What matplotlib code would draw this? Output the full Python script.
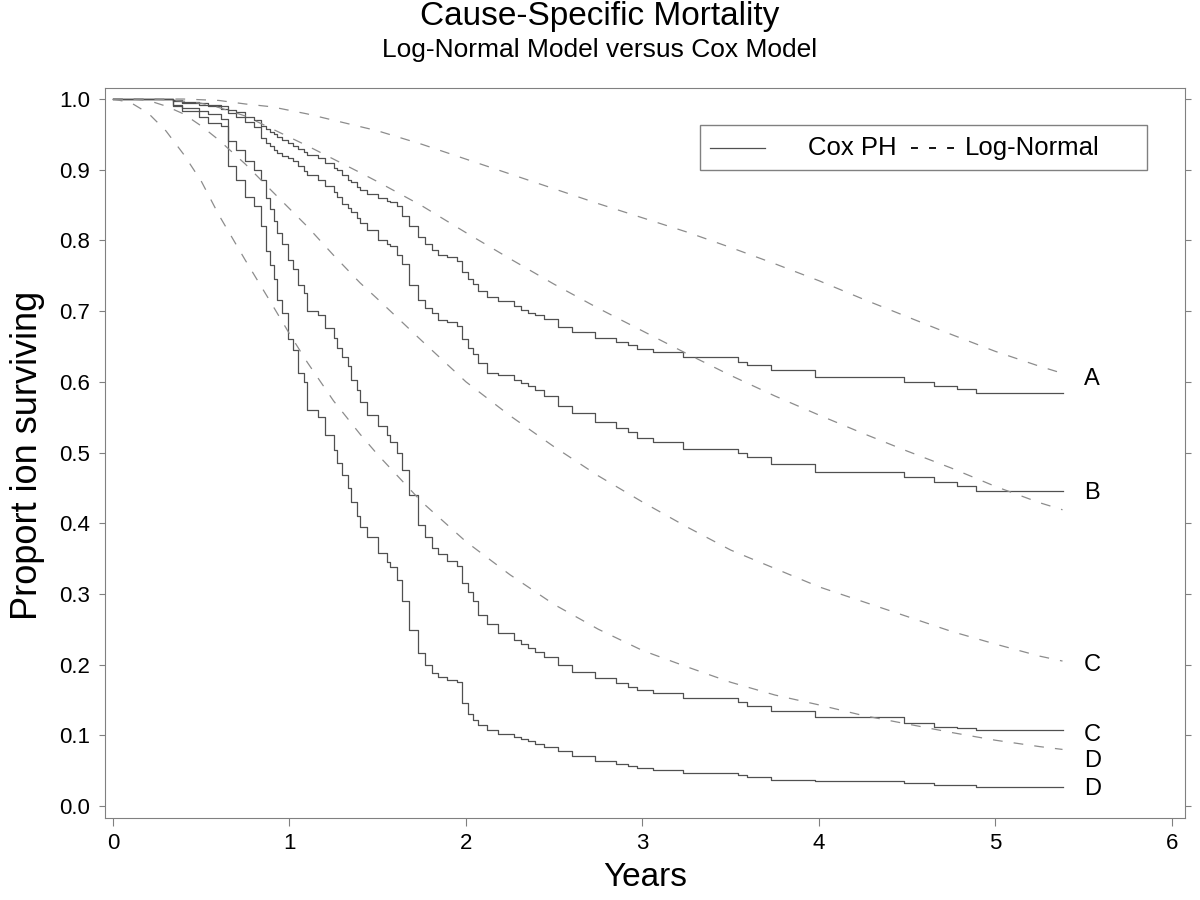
import matplotlib.pyplot as plt
from matplotlib.patches import Rectangle

# Cox PH step curves (all four groups share the same event times, years)
cox_t = [0, 0.34, 0.39, 0.49, 0.54, 0.61, 0.65, 0.70, 0.75, 0.80,
         0.84, 0.87, 0.89, 0.91, 0.93, 0.96, 0.99, 1.02, 1.05, 1.08,
         1.10, 1.16, 1.20, 1.25, 1.27, 1.30, 1.33, 1.35, 1.38, 1.40,
         1.44, 1.50, 1.55, 1.57, 1.61, 1.64, 1.68, 1.73, 1.77, 1.81,
         1.84, 1.89, 1.95, 1.98, 2.01, 2.04, 2.07, 2.12, 2.18, 2.27,
         2.31, 2.35, 2.39, 2.44, 2.52, 2.60, 2.73, 2.85, 2.92, 2.97,
         3.06, 3.23, 3.54, 3.59, 3.73, 3.98, 4.48, 4.65, 4.78, 4.89,
         5.38]
cox_a = [1.0, .998, .996, .994, .992, .99, .985, .981, .975, .970,
         .962, .957, .953, .950, .946, .942, .938, .934, .930, .925,
         .921, .916, .910, .903, .899, .893, .886, .882, .876, .871,
         .866, .860, .856, .854, .848, .835, .820, .805, .795, .786,
         .779, .776, .771, .756, .745, .738, .728, .720, .715, .707,
         .702, .697, .694, .689, .678, .671, .662, .657, .652, .647,
         .642, .635, .628, .624, .617, .607, .600, .594, .590, .584,
         .584]
cox_b = [1.0, .997, .995, .992, .990, .986, .980, .975, .968, .960,
         .945, .938, .934, .928, .924, .920, .917, .912, .905, .898,
         .893, .885, .877, .868, .862, .852, .846, .840, .832, .825,
         .815, .800, .795, .792, .779, .766, .737, .716, .705, .698,
         .688, .685, .679, .660, .648, .640, .626, .613, .609, .602,
         .598, .594, .588, .580, .566, .556, .543, .535, .529, .521,
         .515, .505, .499, .494, .484, .472, .465, .458, .453, .446,
         .446]
cox_c = [1.0, .992, .988, .983, .979, .972, .940, .928, .912, .900,
         .885, .860, .845, .828, .810, .795, .772, .760, .737, .726,
         .700, .694, .676, .662, .648, .635, .622, .603, .588, .572,
         .553, .537, .525, .515, .500, .475, .440, .398, .380, .365,
         .356, .346, .340, .315, .303, .290, .270, .257, .245, .235,
         .229, .224, .218, .211, .200, .190, .181, .174, .169, .164,
         .160, .153, .147, .141, .134, .126, .118, .112, .110, .107,
         .107]
cox_d = [1.0, .990, .983, .975, .966, .962, .905, .885, .862, .848,
         .820, .785, .765, .745, .716, .697, .660, .645, .612, .600,
         .560, .550, .525, .504, .485, .468, .450, .430, .410, .395,
         .380, .358, .345, .338, .320, .290, .249, .216, .200, .188,
         .182, .178, .176, .146, .130, .122, .114, .107, .102, .098,
         .095, .092, .088, .084, .078, .070, .064, .060, .057, .054,
         .051, .047, .044, .041, .037, .035, .032, .030, .029, .027,
         .027]

# Log-normal model curves
ln_t = [0, 0.1, 0.2, 0.3, 0.4, 0.5, 0.6, 0.75, 0.9, 1.0, 1.1, 1.25, 1.4,
        1.5, 1.75, 2.0, 2.25, 2.5, 2.75, 3.0, 3.25, 3.5, 3.75, 4.0, 4.25,
        4.5, 4.75, 5.0, 5.25, 5.38]
ln_a = [1.0, 1.0, 1.0, 1.0, 1.0, .999, .998, .993, .989, .984, .979, .970,
        .961, .955, .936, .915, .894, .873, .852, .832, .812, .790, .767,
        .743, .717, .692, .667, .643, .622, .612]
ln_b = [1.0, 1.0, 1.0, .999, .997, .994, .988, .976, .958, .946, .934, .915,
        .896, .883, .849, .811, .774, .738, .704, .672, .640, .609, .580,
        .553, .527, .502, .478, .452, .429, .419]
ln_c = [1.0, 1.0, .998, .990, .979, .962, .942, .908, .870, .845, .820, .779,
        .740, .717, .658, .600, .552, .508, .467, .430, .395, .362, .336,
        .310, .289, .268, .247, .229, .212, .205]
ln_d = [1.0, .995, .980, .955, .922, .884, .836, .772, .710, .668, .628, .573,
        .526, .497, .430, .374, .327, .285, .250, .220, .197, .175, .157,
        .143, .128, .116, .104, .093, .084, .080]

end_labels = ['A', 'B', 'C', 'C', 'D', 'D']
end_label_y = [0.604, 0.443, 0.200, 0.100, 0.064, 0.024]

plt.rcParams['font.family'] = ['Liberation Sans', 'DejaVu Sans']
plt.rcParams['lines.scale_dashes'] = False

solid_col = '#505050'
dash_col = '#8c8c8c'

fig = plt.figure(figsize=(12, 9), dpi=100)
ax = fig.add_axes([105 / 1200, 82 / 900, 1080 / 1200, 730 / 900])

for v in (cox_a, cox_b, cox_c, cox_d):
    ax.step(cox_t, v, where='post', color=solid_col, linewidth=0.9)
for v in (ln_a, ln_b, ln_c, ln_d):
    ax.plot(ln_t, v, color=dash_col, linewidth=0.9, dashes=(7, 8))

for lab, y in zip(end_labels, end_label_y):
    ax.text(5.5, y, lab, fontsize=17, ha='left', va='center')

ax.set_xlim(-0.045, 6.074)
ax.set_ylim(-0.017, 1.0156)
ax.set_xticks(range(7))
ax.set_yticks([i / 10 for i in range(11)])
ax.set_yticklabels([f'{i / 10:.1f}' for i in range(11)])

for s in ax.spines.values():
    s.set_color('#808080')
ax.tick_params(axis='both', direction='out', color='#808080',
               labelcolor='black', labelsize=16)
ax.tick_params(axis='y', right=True, length=4.3, pad=6.5)
ax.tick_params(axis='x', length=5.8, pad=5)

# legend box drawn by hand to match the original layout
ax.add_patch(Rectangle((0.551, 0.8877), 0.414, 0.0616, transform=ax.transAxes,
                       fill=False, edgecolor='#808080', linewidth=1))
ax.plot([0.5602, 0.611], [0.9178, 0.9178], transform=ax.transAxes,
        color=solid_col, linewidth=0.9)
ax.text(0.651, 0.9178, 'Cox PH', transform=ax.transAxes, fontsize=18.5,
        va='center')
ax.plot([0.746, 0.786], [0.9178, 0.9178], transform=ax.transAxes,
        color='black', linewidth=1.3, dashes=(5, 8))
ax.text(0.796, 0.9178, 'Log-Normal', transform=ax.transAxes, fontsize=18.5,
        va='center')

fig.text(0.5, 1 - 16 / 900, 'Cause-Specific Mortality', ha='center',
         va='center', fontsize=24)
fig.text(0.5, 1 - 50 / 900, 'Log-Normal Model versus Cox Model', ha='center',
         va='center', fontsize=19)
fig.text(645 / 1200, 1 - 878 / 900, 'Years', ha='center', va='center',
         fontsize=24)
fig.text(28 / 1200, 1 - 455 / 900, 'Proport ion surviving', ha='center',
         va='center', rotation=90, fontsize=26)

plt.savefig('out.png', dpi=100)
plt.close()
